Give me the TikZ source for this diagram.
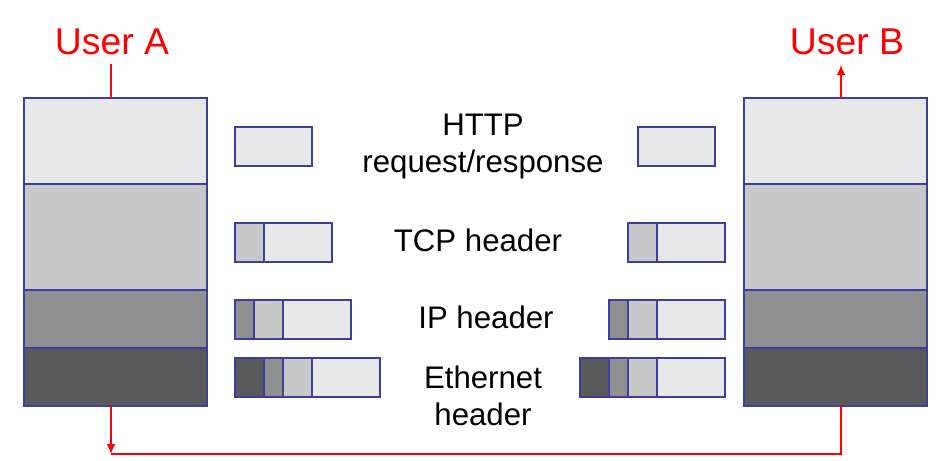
\documentclass[tikz,border=0pt]{standalone}
\usepackage{fontspec}
\setmainfont{Liberation Sans}
\usetikzlibrary{positioning, arrows.meta}
\definecolor{edge}{RGB}{62,62,160}
\definecolor{appgray}{RGB}{232,232,232}
\definecolor{tcpgray}{RGB}{200,200,200}
\definecolor{ipgray}{RGB}{144,144,144}
\definecolor{ethgray}{RGB}{90,90,90}

\begin{document}
\begin{tikzpicture}[x=0.75pt, y=-0.75pt, font=\fontsize{23.4}{27.75}\selectfont]
    \tikzstyle{layer} = [rectangle, draw=edge, line width=1pt, inner sep=0pt, outer sep=0pt, minimum width=137.25pt]
    \tikzstyle{seg} = [rectangle, draw=edge, line width=1pt, inner sep=0pt, outer sep=0pt, minimum height=29.25pt]
    \tikzstyle{wire} = [red, line width=1pt]
    \tikzstyle{tip} = [-{Latex[length=7.5pt,width=6.5pt]}]
    \tikzstyle{user} = [red, font=\fontsize{28}{34}\selectfont, anchor=base]
    \useasboundingbox (0,0) rectangle (952,460);

\node[layer, minimum height=64.5pt, fill=appgray] (Aapp) at (115.5,141) {};
\node[layer, minimum height=79.5pt, fill=tcpgray, below=0pt of Aapp] (Atcp) {};
\node[layer, minimum height=43.5pt, fill=ipgray, below=0pt of Atcp] (Aip) {};
\node[layer, minimum height=43.5pt, fill=ethgray, below=0pt of Aip] (Aeth) {};

\node[layer, minimum height=64.5pt, fill=appgray] (Bapp) at (835.5,141) {};
\node[layer, minimum height=79.5pt, fill=tcpgray, below=0pt of Bapp] (Btcp) {};
\node[layer, minimum height=43.5pt, fill=ipgray, below=0pt of Btcp] (Bip) {};
\node[layer, minimum height=43.5pt, fill=ethgray, below=0pt of Bip] (Beth) {};

\node[seg, minimum width=57.75pt, fill=appgray, anchor=west] (LhttpD) at (235,146.5) {};
\node[seg, minimum width=21.75pt, fill=tcpgray, anchor=west] (LtcpH) at (235,242.5) {};
\node[seg, minimum width=51pt, fill=appgray, right=0pt of LtcpH] (LtcpD) {};
\node[seg, minimum width=14.25pt, fill=ipgray, anchor=west] (LipH) at (235,319.5) {};
\node[seg, minimum width=21.75pt, fill=tcpgray, right=0pt of LipH] (LipT) {};
\node[seg, minimum width=51pt, fill=appgray, right=0pt of LipT] (LipD) {};
\node[seg, minimum width=21.75pt, fill=ethgray, anchor=west] (LethH) at (235,377.5) {};
\node[seg, minimum width=14.25pt, fill=ipgray, right=0pt of LethH] (LethI) {};
\node[seg, minimum width=21.75pt, fill=tcpgray, right=0pt of LethI] (LethT) {};
\node[seg, minimum width=51pt, fill=appgray, right=0pt of LethT] (LethD) {};

\node[seg, minimum width=57.75pt, fill=appgray, anchor=east] (RhttpD) at (715,146.5) {};
\node[seg, minimum width=51pt, fill=appgray, anchor=east] (RtcpD) at (725,242.5) {};
\node[seg, minimum width=21.75pt, fill=tcpgray, left=0pt of RtcpD] (RtcpH) {};
\node[seg, minimum width=51pt, fill=appgray, anchor=east] (RipD) at (725,319.5) {};
\node[seg, minimum width=21.75pt, fill=tcpgray, left=0pt of RipD] (RipT) {};
\node[seg, minimum width=14.25pt, fill=ipgray, left=0pt of RipT] (RipH) {};
\node[seg, minimum width=51pt, fill=appgray, anchor=east] (RethD) at (725,377.5) {};
\node[seg, minimum width=21.75pt, fill=tcpgray, left=0pt of RethD] (RethT) {};
\node[seg, minimum width=14.25pt, fill=ipgray, left=0pt of RethT] (RethI) {};
\node[seg, minimum width=21.75pt, fill=ethgray, left=0pt of RethI] (RethH) {};

\node[align=center] (httptext) at (483,147) {HTTP\\request/response};
\node[anchor=base] (tcptext) at (478,251) {TCP header};
\node[anchor=base] (iptext) at (486,328) {IP header};
\node[align=center] (ethtext) at (483,396) {Ethernet\\header};

\node[user] (userA) at (112,55) {User A};
\node[user] (userB) at (847,55) {User B};

\coordinate (Aport) at (111,0);
\coordinate (Bport) at (841,0);
\coordinate (low) at (0,454);
\draw[wire, shorten >=3pt] (Aapp.north -| Aport) -- (userA.south -| Aport);
\draw[wire, tip, shorten >=3.75pt] (Bapp.north -| Bport) -- (userB.south -| Bport);
\draw[wire, tip] (Aeth.south -| Aport) -- (low -| Aport);
\draw[wire] (low -| Aport) -| (Beth.south -| Bport);
\end{tikzpicture}
\end{document}
